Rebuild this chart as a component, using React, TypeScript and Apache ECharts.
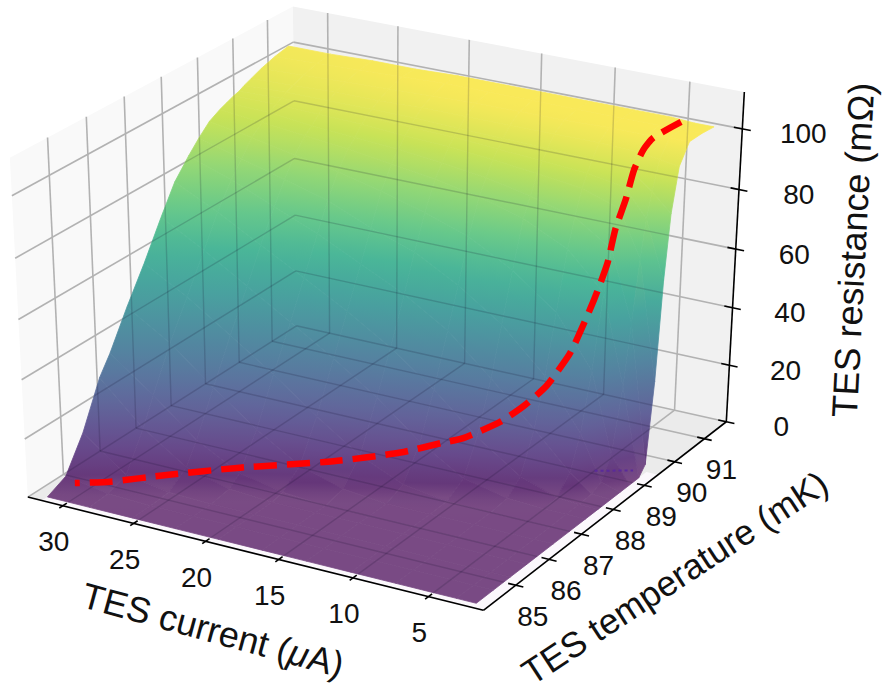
import React, { useEffect, useRef } from "react";
import * as echarts from "echarts";

const currentTicks = [30, 25, 20, 15, 10, 5];
const temperatureTicks = [85, 86, 87, 88, 89, 90, 91];
const resistanceTicks = [0, 20, 40, 60, 80, 100];
const surfaceCurrents = [31.5, 28.5, 25.5, 22.5, 19.5, 16.5, 13.5, 10.5, 7.5, 5, 3.5, 2.2];
const surfaceTemps = [84.2, 84.7, 85.2, 85.7, 86, 86.5, 87, 87.5, 87.9, 88.3, 88.6, 88.9, 89.2, 89.4, 89.6, 89.75, 89.9, 90.1, 90.4, 90.8, 91.2];
const R315 = [0, 3, 14, 29, 35, 47, 58, 70, 79, 85, 89, 92.5, 94.5, 95.5, 96.5, 97, 98, 99, 100.5, 102, 103];
const R285 = [0, 0.5, 3, 15, 24, 38, 50, 62, 72, 80, 85, 90, 93, 95, 96.5, 97.5, 98.5, 99.5, 101, 102.5, 103];
const R255 = [0, 0, 0.5, 5, 12, 26, 40, 53, 64, 74, 81, 87, 91.5, 93.5, 96, 97.5, 98.5, 100, 101.5, 103, 103.5];
const R225 = [0, 0, 0, 1, 4, 15, 30, 44, 56, 68, 77, 84.5, 90, 92.5, 95.5, 97, 98.5, 100, 102, 103.5, 103.5];
const R195 = [0, 0, 0, 0, 1, 6, 19, 35, 48, 61, 71, 81, 88, 91.5, 94.5, 96.5, 98.5, 100.5, 102.5, 104, 104];
const R165 = [0, 0, 0, 0, 0, 1.5, 9, 25, 39, 54, 66, 77, 86, 90, 94, 96, 98, 100.5, 103, 104, 104];
const R135 = [0, 0, 0, 0, 0, 0, 2.5, 13, 28, 45, 58, 72, 83, 88, 92.5, 95, 97.5, 100.5, 103, 104, 104];
const R105 = [0, 0, 0, 0, 0, 0, 0.3, 4, 15, 32, 48, 64, 79, 85, 91, 94, 97, 100.5, 103, 104, 104];
const R75 = [0, 0, 0, 0, 0, 0, 0, 0.7, 5, 18, 34, 53, 72, 81, 89, 93, 96.5, 100.5, 103.5, 104, 104];
const R50 = [0, 0, 0, 0, 0, 0, 0, 0, 0.7, 6, 17, 36, 60, 73, 85, 91, 95.5, 100, 103.5, 104, 104];
const R35 = [0, 0, 0, 0, 0, 0, 0, 0, 0, 0.3, 2, 9, 30, 50, 70, 82, 90, 99, 104, 104, 103.5];
const R22 = [0, 0, 0, 0, 0, 0, 0, 0, 0, 0, 0, 0, 0, 3, 30, 63, 84, 98, 104, 104, 103.5];
const surfaceR = [R315, R285, R255, R225, R195, R165, R135, R105, R75, R50, R35, R22];
const onsetCurrents = [5, 3];
const onsetTemps = [89.1, 89.4];
const loadCurrents = [30.7, 28.9, 26.2, 22.6, 17.7, 14.3, 12.2, 11.2, 9.4, 8.3, 7.3, 6.4, 6.1, 5.5, 5.1, 5.0, 4.8, 4.8, 4.7, 4.5, 4.2];
const loadTemps = [84.64, 84.92, 85.42, 86.05, 86.73, 87.26, 87.63, 87.79, 88.12, 88.36, 88.57, 88.82, 88.93, 89.14, 89.33, 89.5, 89.7, 89.93, 90.16, 90.37, 91.11];
const loadR = [2.1, 2.4, 3.8, 5.4, 7.8, 10.5, 13.4, 14.8, 19.9, 24.9, 31.1, 40.5, 45.7, 57.8, 68.8, 79, 87.5, 95.5, 100.6, 103.3, 103.8];

const I_MIN = 1.4, I_MAX = 32.5, T_MIN = 84.05, T_MAX = 91.75, Z_MAX = 112;
const corners: number[][] = [
  [1, 0, 0, 29, 498], [0, 0, 0, 483, 610], [0, 1, 0, 727, 422], [1, 1, 0, 295, 325],
  [0, 1, 1, 744, 92], [1, 1, 1, 294, 7], [1, 0, 1, 9, 157],
];

function solveCamera(): number[] {
  const rows: number[][] = [];
  const rhs: number[] = [];
  for (const [u, v, w, x, y] of corners) {
    rows.push([u, v, w, 1, 0, 0, 0, 0, -x * u, -x * v, -x * w]); rhs.push(x);
    rows.push([0, 0, 0, 0, u, v, w, 1, -y * u, -y * v, -y * w]); rhs.push(y);
  }
  const n = 11;
  const A: number[][] = [];
  for (let i = 0; i < n; i++) {
    A.push(new Array(n + 1).fill(0));
    for (let j = 0; j < n; j++) rows.forEach((r) => (A[i][j] += r[i] * r[j]));
    rows.forEach((r, k) => (A[i][n] += r[i] * rhs[k]));
  }
  for (let c = 0; c < n; c++) {
    let p = c;
    for (let r = c; r < n; r++) if (Math.abs(A[r][c]) > Math.abs(A[p][c])) p = r;
    [A[c], A[p]] = [A[p], A[c]];
    for (let r = 0; r < n; r++) {
      if (r === c) continue;
      const f = A[r][c] / A[c][c];
      for (let k = c; k <= n; k++) A[r][k] -= f * A[c][k];
    }
  }
  return A.map((r, i) => r[n] / r[i]);
}
const cam = solveCamera();
function boxXY(u: number, v: number, w: number): [number, number] {
  const d = cam[8] * u + cam[9] * v + cam[10] * w + 1;
  return [(cam[0] * u + cam[1] * v + cam[2] * w + cam[3]) / d, (cam[4] * u + cam[5] * v + cam[6] * w + cam[7]) / d];
}
const U = (I: number) => (I - I_MIN) / (I_MAX - I_MIN);
const V = (T: number) => (T - T_MIN) / (T_MAX - T_MIN);
const W = (z: number) => z / Z_MAX;
const project = (I: number, T: number, z: number) => boxXY(U(I), V(T), W(z));

const VIRIDIS = ["#440154", "#482475", "#414487", "#355f8d", "#2a788e", "#21918c", "#22a884", "#44bf70", "#7ad151", "#bddf26", "#fde725"];
const hex = (s: string) => [1, 3, 5].map((i) => parseInt(s.slice(i, i + 2), 16));
function colorOf(z: number): string {
  const t = Math.max(0, Math.min(1, z / 104)) * 10;
  const k = Math.min(9, Math.floor(t));
  const a = hex(VIRIDIS[k]), b = hex(VIRIDIS[k + 1]);
  const alpha = z < 0.3 ? 0.69 : z < 3 ? 0.69 + ((z - 0.3) / 2.7) * 0.12 : z < 60 ? 0.81 : 0.81 - ((Math.min(z, 104) - 60) / 44) * 0.07;
  const mix = a.map((c, i) => (c + (b[i] - c) * (t - k)) * alpha + (1 - alpha) * 238);
  return `rgb(${mix.map((c) => Math.round(c)).join(",")})`;
}

function App() {
  const ref = useRef<HTMLDivElement>(null);
  useEffect(() => {
    const chart = echarts.init(ref.current!, undefined, { renderer: "svg" });
    const FONT = '"Liberation Sans", Arial, sans-serif';
    const pt = (api: any, p: [number, number]) => api.coord(p);
    const poly = (api: any, uvw: number[][]) => uvw.map((q) => pt(api, boxXY(q[0], q[1], q[2])));
    const gridLines = (api: any, style: any) => {
      const out: any[] = [];
      const seg = (a: number[], b: number[]) => out.push({ type: "polyline", shape: { points: poly(api, [a, b]) }, style });
      resistanceTicks.forEach((z) => { const w = W(z); seg([0, 1, w], [1, 1, w]); seg([1, 1, w], [1, 0, w]); });
      currentTicks.forEach((I) => { const u = U(I); seg([u, 1, 0], [u, 1, 1]); seg([u, 0, 0], [u, 1, 0]); });
      temperatureTicks.forEach((T) => { const v = V(T); seg([1, v, 0], [1, v, 1]); seg([0, v, 0], [1, v, 0]); });
      return out;
    };
    const cells: number[][] = [];
    for (let j = surfaceTemps.length - 2; j >= 0; j--) for (let i = 0; i < surfaceCurrents.length - 1; i++) cells.push([i, j]);

    const renderCell = (_: any, api: any) => {
      const i = api.value(0), j = api.value(1);
      const idx = [[i, j], [i + 1, j], [i + 1, j + 1], [i, j + 1]];
      const zs = idx.map(([a, b]) => surfaceR[a][b]);
      const ps = idx.map(([a, b]) => pt(api, project(surfaceCurrents[a], surfaceTemps[b], surfaceR[a][b])));
      const zlo = Math.min(...zs), zhi = Math.max(...zs);
      let paint: any = colorOf(zlo);
      if (zhi - zlo > 0.05) {
        const cx = ps.reduce((s, p) => s + p[0], 0) / 4, cy = ps.reduce((s, p) => s + p[1], 0) / 4, cz = zs.reduce((s, z) => s + z, 0) / 4;
        let xx = 0, xy = 0, yy = 0, xz = 0, yz = 0;
        ps.forEach((p, k) => { const dx = p[0] - cx, dy = p[1] - cy, dz = zs[k] - cz; xx += dx * dx; xy += dx * dy; yy += dy * dy; xz += dx * dz; yz += dy * dz; });
        const det = xx * yy - xy * xy;
        let gx = (yy * xz - xy * yz) / det, gy = (xx * yz - xy * xz) / det;
        const g2 = gx * gx + gy * gy;
        let a = [cx + (gx * (zlo - cz)) / g2, cy + (gy * (zlo - cz)) / g2];
        let b = [cx + (gx * (zhi - cz)) / g2, cy + (gy * (zhi - cz)) / g2];
        if (Math.abs(det) < 1e-3 || !isFinite(a[0]) || !isFinite(b[0])) { a = ps[zs.indexOf(zlo)]; b = ps[zs.indexOf(zhi)]; }
        const colorStops = [0, 0.25, 0.5, 0.75, 1].map((o) => ({ offset: o, color: colorOf(zlo + (zhi - zlo) * o) }));
        paint = { type: "linear", x: a[0], y: a[1], x2: b[0], y2: b[1], global: true, colorStops };
      }
      return { type: "polygon", shape: { points: ps }, style: { fill: paint, stroke: paint, lineWidth: 0.8 } };
    };

    const outline = (api: any) => {
      const out: number[][] = [];
      const nI = surfaceCurrents.length, nT = surfaceTemps.length;
      const P = (a: number, b: number) => pt(api, project(surfaceCurrents[a], surfaceTemps[b], surfaceR[a][b]));
      for (let a = 0; a < nI; a++) out.push(P(a, 0));
      for (let b = 1; b < nT; b++) out.push(P(nI - 1, b));
      for (let a = nI - 2; a >= 0; a--) out.push(P(a, nT - 1));
      for (let b = nT - 2; b > 0; b--) out.push(P(0, b));
      return out;
    };
    const label = (x: number, y: number, text: string) => ({ type: "text", x, y, style: { text, font: `28px ${FONT}`, fill: "#111", align: "center", verticalAlign: "middle" } });
    const title = (x: number, y: number, deg: number, text: string, size: number, rich: any) => ({
      type: "text", x, y, rotation: (deg * Math.PI) / 180,
      style: { text, font: `${size}px ${FONT}`, fill: "#111", align: "center", verticalAlign: "middle", rich },
    });
    const richBase = { a: { font: `36px ${FONT}`, fill: "#111" }, b: { font: `italic 36px ${FONT}`, fill: "#111" } };

    chart.setOption({
      animation: false,
      grid: { left: 0, right: 0, top: 0, bottom: 0 },
      xAxis: { type: "value", min: 0, max: 888, show: false },
      yAxis: { type: "value", min: 0, max: 695, inverse: true, show: false },
      series: [
        {
          type: "custom", z: 1, silent: true, clip: false, data: [[0, 0]],
          renderItem: (_: any, api: any) => {
            const us = U(surfaceCurrents[0]), ue = U(surfaceCurrents[surfaceCurrents.length - 1]), vs = V(surfaceTemps[0]), ve = V(89.45);
            return {
              type: "group",
              children: [
                { type: "polygon", shape: { points: poly(api, [[1, 0, 0], [1, 1, 0], [1, 1, 1], [1, 0, 1]]) }, style: { fill: "#f9f9f9" } },
                { type: "polygon", shape: { points: poly(api, [[0, 1, 0], [1, 1, 0], [1, 1, 1], [0, 1, 1]]) }, style: { fill: "#f1f1f1" } },
                { type: "polygon", shape: { points: poly(api, [[0, 0, 0], [1, 0, 0], [1, 1, 0], [0, 1, 0]]) }, style: { fill: "#ebebeb" } },
                ...gridLines(api, { stroke: "#b2b2b2", lineWidth: 1.6, fill: null }),
                { type: "polygon", shape: { points: poly(api, [[us, 0, 0], [0, 0, 0], [0, ve, 0], [ue, ve, 0], [ue, vs, 0], [us, vs, 0]]) }, style: { fill: "#fbf8fc" } },
              ],
            };
          },
        },
        { type: "custom", z: 2, silent: true, clip: false, data: cells, renderItem: renderCell },
        {
          type: "custom", z: 3, silent: true, clip: false, data: [[0, 0]],
          renderItem: (_: any, api: any) => ({
            type: "group",
            clipPath: { type: "polygon", shape: { points: outline(api) } },
            children: gridLines(api, { stroke: "rgba(20,10,40,0.17)", lineWidth: 1.4, fill: null }),
          }),
        },
        {
          type: "custom", z: 4, silent: true, clip: false, data: [[0, 0]],
          renderItem: (_: any, api: any) => {
            const ax = { stroke: "#000", lineWidth: 1.6, fill: null };
            const line = (a: number[], b: number[]) => ({ type: "polyline", shape: { points: poly(api, [a, b]) }, style: ax });
            const kids: any[] = [line([1, 0, 0], [0, 0, 0]), line([0, 0, 0], [0, 1, 0]), line([0, 1, 0], [0, 1, 1])];
            currentTicks.forEach((I) => {
              const u = U(I);
              kids.push(line([u, -0.012, 0], [u, 0.014, 0]));
              const p = pt(api, boxXY(u, 0, 0));
              kids.push(label(p[0] - 9, p[1] + 36, String(I)));
            });
            temperatureTicks.forEach((T) => {
              const v = V(T);
              kids.push(line([-0.016, v, 0], [0.016, v, 0]));
              const p = pt(api, boxXY(0, v, 0));
              kids.push(label(p[0] + 17, p[1] + 31, String(T)));
            });
            resistanceTicks.forEach((z) => {
              const w = W(z);
              kids.push(line([-0.018, 1, w], [0.018, 1, w]));
              const p = pt(api, boxXY(0, 1, w));
              kids.push(label(p[0] + 55 + z * 0.06, p[1] + 5, String(z)));
            });
            kids.push(title(213, 630, -15.3, "{a|TES current (}{b|μ}{a|A)}", 36, richBase));
            kids.push(title(675, 578, 33.3, "TES temperature (mK)", 35.5, undefined));
            kids.push(title(853, 250, 87, "TES resistance (mΩ)", 36, undefined));
            kids.push({
              type: "polyline",
              shape: { points: onsetCurrents.map((I, k) => pt(api, project(I, onsetTemps[k], 0))) },
              style: { stroke: "#5a2a9a", lineWidth: 2, lineDash: [3, 3], fill: null },
            });
            return { type: "group", children: kids };
          },
        },
        {
          type: "custom", z: 5, silent: true, clip: false, data: [[0, 0]],
          renderItem: (_: any, api: any) => ({
            type: "polyline",
            shape: { points: loadCurrents.map((I, k) => pt(api, project(I, loadTemps[k], loadR[k]))), smooth: 0.2 },
            style: { stroke: "#ff0000", lineWidth: 6.5, lineDash: [23, 10], lineDashOffset: 18, fill: null },
          }),
        },
      ],
    });
    return () => chart.dispose();
  }, []);
  return <div ref={ref} style={{ position: "absolute", left: 0, top: 0, width: 888, height: 695 }} />;
}
export default App;
